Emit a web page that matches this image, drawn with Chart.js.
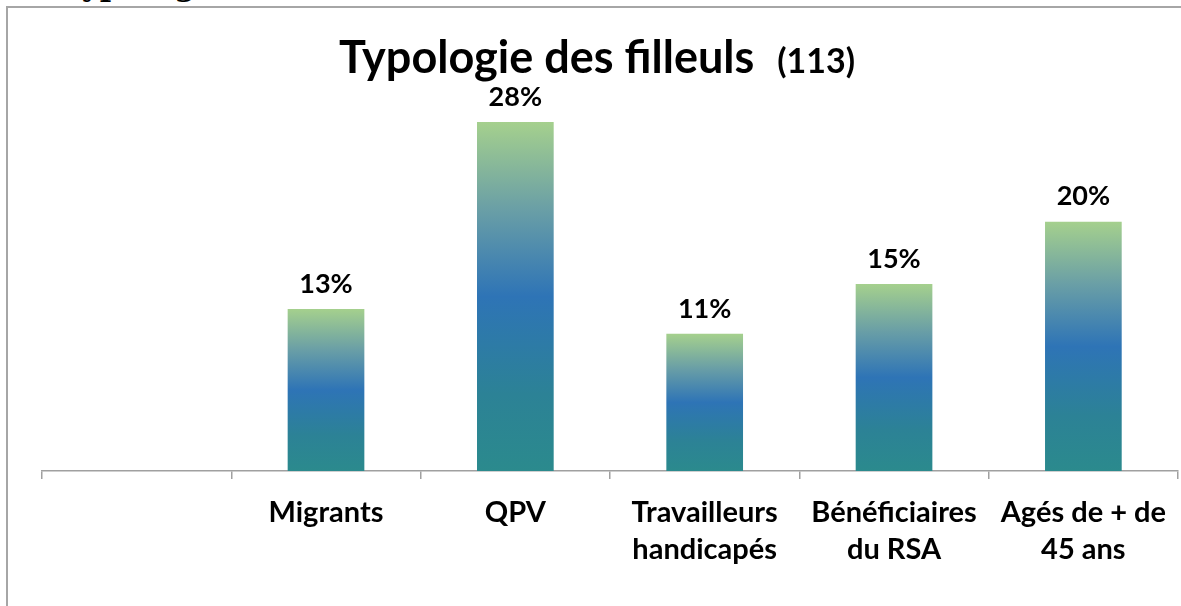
<!DOCTYPE html>
<html>
<head>
<meta charset="utf-8">
<script src="https://cdn.jsdelivr.net/npm/chart.js@4/dist/chart.umd.min.js"></script>
<style>
  html, body { margin: 0; padding: 0; background: #fff; overflow: hidden; }
  #wrap { position: relative; width: 1181px; height: 606px; overflow: hidden; }
  #doc-title { position: absolute; left: 62px; top: -34px; font: bold 31px "DejaVu Serif", serif; color: #000; }
  #frame { position: absolute; left: 6px; top: 6px; right: -20px; bottom: -20px; border: 2px solid #a6a6a6; }
  canvas { position: absolute; left: 0; top: 0; }
</style>
</head>
<body>
<div id="wrap">
  <div id="doc-title">Typologie</div>
  <div id="frame"></div>
  <canvas id="chart" width="1181" height="606"></canvas>
</div>
<script>
// chart data
const categories = ['', 'Migrants', 'QPV', ['Travailleurs', 'handicapés'], ['Bénéficiaires', 'du RSA'], ['Agés de + de', '45 ans']];
const shares = [null, 13, 28, 11, 15, 20];
const chartTitle = 'Typologie des filleuls';
const chartSubtitle = '(113)';

const FONT = 'Lato, "Open Sans", sans-serif';

function barGradient(context) {
    const chart = context.chart;
    const y = chart.scales.y;
    if (!y || context.raw == null) return '#2e75b6';
    const top = y.getPixelForValue(context.raw);
    const bottom = y.getPixelForValue(0);
    if (!isFinite(top) || !isFinite(bottom)) return '#2e75b6';
    const g = chart.ctx.createLinearGradient(0, bottom, 0, top);
    g.addColorStop(0, '#2b8a8d');
    g.addColorStop(0.22, '#2c8296');
    g.addColorStop(0.5, '#2e74b6');
    g.addColorStop(0.75, '#6a9fa6');
    g.addColorStop(1, '#a5d08d');
    return g;
}

// title + value labels drawn on the canvas
const overlay = {
    id: 'overlay',
    afterDatasetsDraw(chart) {
        const ctx = chart.ctx;
        ctx.save();
        ctx.fillStyle = '#000';
        ctx.textBaseline = 'alphabetic';
        ctx.textAlign = 'left';
        ctx.font = 'bold 45px ' + FONT;
        const w1 = ctx.measureText(chartTitle).width;
        ctx.font = 'bold 34px ' + FONT;
        const w2 = ctx.measureText(chartSubtitle).width;
        const gap = 23;
        const startX = 597 - (w1 + gap + w2) / 2;
        ctx.font = 'bold 45px ' + FONT;
        ctx.fillText(chartTitle, startX, 73);
        ctx.font = 'bold 34px ' + FONT;
        ctx.fillText(chartSubtitle, startX + w1 + gap, 73);

        const meta = chart.getDatasetMeta(0);
        ctx.font = 'bold 27px ' + FONT;
        ctx.textAlign = 'center';
        ctx.textBaseline = 'middle';
        meta.data.forEach((bar, i) => {
            if (shares[i] == null) return;
            ctx.fillText(shares[i] + '%', bar.x, bar.y - 25);
        });
        ctx.restore();
    }
};

new Chart(document.getElementById('chart'), {
    type: 'bar',
    data: {
        labels: categories,
        datasets: [{
            data: shares,
            backgroundColor: barGradient,
            borderWidth: 0,
            categoryPercentage: 1,
            barPercentage: 0.405
        }]
    },
    options: {
        responsive: false,
        animation: false,
        layout: { padding: { top: 97, left: 42, right: 0, bottom: 0 } },
        plugins: {
            legend: { display: false },
            title: { display: false },
            tooltip: { enabled: false }
        },
        scales: {
            y: { display: false, min: 0, max: 30 },
            x: {
                afterFit(scale) { scale.height = 135; },
                border: { display: true, color: '#a0a0a0', width: 1.5 },
                grid: { offset: true, drawOnChartArea: false, drawTicks: true, tickLength: 8, color: '#a0a0a0', lineWidth: 1.5 },
                ticks: {
                    color: '#000',
                    padding: 15,
                    maxRotation: 0,
                    autoSkip: false,
                    font: { family: FONT, size: 29, weight: 'bold', lineHeight: 1.28 }
                }
            }
        }
    },
    plugins: [overlay]
});
</script>
</body>
</html>
